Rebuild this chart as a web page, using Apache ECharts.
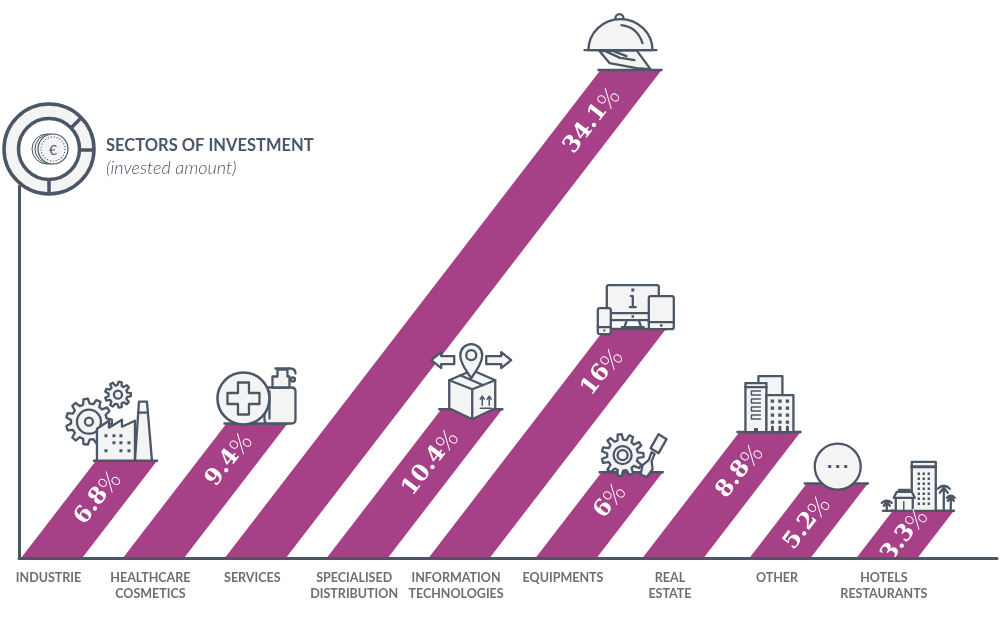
<!DOCTYPE html>
<html>
<head>
<meta charset="utf-8">
<title>Sectors of investment</title>
<script src="https://cdn.jsdelivr.net/npm/echarts@6/dist/echarts.min.js"></script>
<style>
	html, body { margin: 0; padding: 0; background: #fff; }
	#chart { width: 1000px; height: 620px; }
</style>
</head>
<body>
<div id="chart"></div>
<script>
const categories = [
	"INDUSTRIE", "HEALTHCARE\nCOSMETICS", "SERVICES", "SPECIALISED\nDISTRIBUTION",
	"INFORMATION\nTECHNOLOGIES", "EQUIPMENTS", "REAL\nESTATE", "OTHER", "HOTELS\nRESTAURANTS"
];
const shares = [6.8, 9.4, 34.1, 10.4, 16, 6, 8.8, 5.2, 3.3];

const ink = "#4b5766";
const paper = "#f4f4f4";
const plum = "#a64087";

// layout only: how far under the top of each bar the percent text ends
const labelDrops = [14, 13, 21, 24, 23, 15, 16, 16, 1];

// the last four bars are a bit more spread out than the first five
function slotOf(i) {
	return i <= 4 ? i : 4 + (i - 4) * 1.05;
}
const labelSlots = categories.map((c, i) => slotOf(i) + 0.27);

// small path helpers for the pictograms
function circ(cx, cy, r) {
	return `M${cx - r} ${cy} A${r} ${r} 0 1 0 ${cx + r} ${cy} A${r} ${r} 0 1 0 ${cx - r} ${cy} Z`;
}
function rr(x, y, w, h, r) {
	return `M${x + r} ${y} L${x + w - r} ${y} Q${x + w} ${y} ${x + w} ${y + r} L${x + w} ${y + h - r} Q${x + w} ${y + h} ${x + w - r} ${y + h} L${x + r} ${y + h} Q${x} ${y + h} ${x} ${y + h - r} L${x} ${y + r} Q${x} ${y} ${x + r} ${y} Z`;
}
function gear(cx, cy, ro, ri, n) {
	var d = "";
	var s = Math.PI * 2 / n;
	for (var k = 0; k < n; k++) {
		var a = k * s;
		var pts = [[ri, a - s * 0.32], [ro, a - s * 0.17], [ro, a + s * 0.17], [ri, a + s * 0.32]];
		pts.forEach(function (q, m) {
			d += (k === 0 && m === 0 ? "M" : "L") + (cx + q[0] * Math.cos(q[1])).toFixed(1) + " " + (cy + q[0] * Math.sin(q[1])).toFixed(1) + " ";
		});
	}
	return d + "Z";
}
function shape(d, lw) {
	return { type: "path", shape: { pathData: d }, style: { fill: paper, stroke: ink, lineWidth: lw || 2.3, lineJoin: "round", lineCap: "round" } };
}
function line(d, lw) {
	return { type: "path", shape: { pathData: d }, style: { fill: "none", stroke: ink, lineWidth: lw || 2.3, lineJoin: "round", lineCap: "round" } };
}
function dots(list, s) {
	var d = list.map(q => rr(q[0] - s / 2, q[1] - s / 2, s, s, 0)).join(" ");
	return { type: "path", shape: { pathData: d }, style: { fill: ink, stroke: null } };
}
function grid(xs, ys) {
	var out = [];
	ys.forEach(y => xs.forEach(x => out.push([x, y])));
	return out;
}

// one pictogram per bar, origin is the top left corner of the bar
const icons = [
	function () {
		return [
			shape(gear(-7, -39, 23, 18, 11)), shape(circ(-7, -39, 12)), shape(circ(-7, -39, 4)),
			shape(gear(22, -66, 13, 9.5, 9)), shape(circ(22, -66, 4)),
			shape("M1 0 L1 -32 L13 -40 L13 -33 L26 -41 L26 -34 L39 -40 L39 0 Z"),
			shape("M39 0 L43 -59 L51 -59 L56 0 Z"), line("M42.5 -48 L52 -48"),
			dots([[10, -25], [18, -25], [25, -25], [18, -18], [25, -18], [33, -18], [10, -10], [25, -10], [33, -10]], 3)
		];
	},
	function () {
		return [
			shape(rr(38, -36, 31, 36, 4)), line("M43 -32 L43 -5"),
			shape("M46 -36 L46 -47 L51 -47 L51 -54 L61 -54 L61 -47 L63 -47 L63 -36 Z"),
			line("M49 -55 L64 -55 Q69 -55 69 -50"), shape(circ(66.5, -44, 2)),
			shape(circ(17, -25, 26), 2.6),
			shape("M11.5 -41 L22.5 -41 L22.5 -30.5 L33 -30.5 L33 -19.5 L22.5 -19.5 L22.5 -9 L11.5 -9 L11.5 -19.5 L1 -19.5 L1 -30.5 L11.5 -30.5 Z")
		];
	},
	function () {
		return [
			shape(circ(19, -52, 4)),
			shape("M-1 -19 L9 -7 L36 -2 L50 -1 L36 -20 Z"),
			line("M5 -19 L20 -12 M13 -19 L26 -14 M22 -12 L34 -10"),
			shape("M-12 -20 A32 31 0 0 1 52 -20 Z"),
			line("M-16 -20 L56 -20"),
			line("M21 -45 Q37 -43 42 -27")
		];
	},
	function () {
		return [
			shape("M8 -29 L31 -39 L54 -29 L54 -1 L31 10 L8 -1 Z"),
			line("M8 -29 L31 -20 L54 -29 M31 -20 L31 10 M19 -34 L42 -24"),
			line("M41 -13 L41 -4 M39 -10 L41 -13 L43 -10 M48 -13 L48 -4 M46 -10 L48 -13 L50 -10 M39 -1 L50 -1", 1.5),
			shape("M30 -31 C24 -40 19 -47 19 -54 A11 11 0 0 1 41 -54 C41 -47 36 -40 30 -31 Z"),
			shape(circ(30, -54, 5)),
			shape("M-10 -49 L0 -57 L0 -53 L13 -53 L13 -45 L0 -45 L0 -41 Z"),
			shape("M70 -49 L60 -57 L60 -53 L45 -53 L45 -45 L60 -45 L60 -41 Z")
		];
	},
	function () {
		return [
			shape(rr(2, -44, 52, 35, 2)), line("M2 -16 L54 -16 M22 -9 L20 -3 M34 -9 L36 -3 M17 -2 L39 -2"),
			dots([[28, -39]], 3),
			line("M26 -33 L28 -33 L28 -22 M25 -22 L31 -22"),
			dots([[28, -12.5]], 2.5),
			shape(rr(44, -33, 25, 33, 2)), line("M44 -7 L69 -7"), dots([[56.5, -3.5]], 2.5),
			shape(rr(-7, -21, 13, 26, 2)), line("M-7 -2 L6 -2"), dots([[-0.5, 1.5]], 2)
		];
	},
	function () {
		return [
			shape(gear(21, -17, 21, 15.5, 11)), shape(circ(21, -17, 9)), shape(circ(21, -17, 5)),
			shape("M57 -38 L65 -33 L57 -19 L49 -24 Z"),
			shape("M50 -20 L53 -18 L50 -11 L51 -3 L45 5 L39 2 L41 -7 L47 -12 Z")
		];
	},
	function () {
		return [
			shape(rr(19, -56, 24, 30, 0)),
			shape(rr(6, -49, 21, 49, 0)), line("M6 -45 L27 -45"),
			line("M21 -41 L12 -41 L12 -37 L21 -37 M21 -33 L12 -33 L12 -29 L21 -29 M21 -25 L12 -25 L12 -21 L21 -21 M21 -17 L12 -17 L12 -13 L21 -13", 1.5),
			dots([[16.5, -2]], 4),
			shape(rr(27, -37, 27, 37, 0)),
			dots(grid([33, 40.5, 48], [-31, -24, -17, -10]), 3.4),
			line("M33 0 L33 -5 M40.5 0 L40.5 -5 M48 0 L48 -5", 3)
		];
	},
	function () {
		return [
			shape(circ(31, -17, 23)),
			dots([[23, -17], [31, -17], [39, -17]], 3)
		];
	},
	function () {
		return [
			line("M-10 0 L0 0"),
			line("M-6 0 L-6 -9 M-11 -8 Q-6 -12 -1 -8 M-9 -5 L-6 -9 L-3 -5"),
			shape(rr(19, -49, 24, 49, 0)), line("M19 -44 L43 -44", 3),
			dots(grid([26, 31, 36], [-37, -32, -27, -22, -17, -12, -7]), 2.4),
			shape(rr(3, -15, 17, 15, 0)),
			shape("M1 -13 L4 -19 L19 -19 L22 -13 Z"),
			line("M6 -21 L17 -21"),
			line("M11 0 L11 -9", 1.5),
			line("M51 0 L51 -23 M45 -22 Q51 -28 57 -22 M47 -18 L51 -23 L55 -18"),
			line("M58 0 L58 -14 M54 -13 Q58 -17 62 -13 M55 -10 L58 -14 L61 -10")
		];
	}
];

function renderBar(params, api) {
	var slot = api.value(0);
	var val = api.value(1);
	var i = api.value(2);
	var base = api.coord([slot, 0]);
	var topY = api.coord([slot, val])[1];
	var h = base[1] - topY;
	var w = api.size([0.6, 0])[0];
	var lean = 0.77;
	var tx = base[0] + h * lean;
	var drop = labelDrops[i];
	var lx = base[0] + w / 2 + (h - drop) * lean;
	var ly = topY + drop;
	return {
		type: "group",
		children: [
			{
				type: "polygon",
				shape: { points: [[base[0], base[1]], [base[0] + w, base[1]], [tx + w, topY], [tx, topY]] },
				style: { fill: plum }
			},
			{
				type: "line",
				shape: { x1: tx - 3, y1: topY, x2: tx + w + 1, y2: topY },
				style: { stroke: ink, lineWidth: 2.5 }
			},
			{
				type: "group",
				x: tx,
				y: topY,
				children: icons[i]()
			},
			{
				type: "text",
				x: lx,
				y: ly,
				rotation: Math.atan(1 / lean),
				style: {
					text: "{n|" + val + "}{p|%}",
					align: "right",
					verticalAlign: "middle",
					rich: {
						n: { fontFamily: "DejaVu Serif", fontWeight: "bold", fontSize: 23, fill: "#fff", color: "#fff" },
						p: { fontFamily: "Lato", fontWeight: 300, fontSize: 25, fill: "#fff", color: "#fff" }
					}
				}
			}
		]
	};
}

var chart = echarts.init(document.getElementById("chart"), null, { renderer: "canvas" });

var option = {
	animation: false,
	backgroundColor: "#fff",
	title: {
		text: "SECTORS OF INVESTMENT",
		subtext: "(invested amount)",
		left: 106,
		top: 137,
		padding: 0,
		itemGap: 5,
		textStyle: { fontFamily: "Lato", fontWeight: "bold", fontSize: 16.5, color: ink },
		subtextStyle: { fontFamily: "Lato", fontStyle: "italic", fontWeight: 300, fontSize: 18, color: ink }
	},
	grid: { left: 19, right: 3, top: 186, bottom: 62 },
	xAxis: {
		type: "value",
		min: -0.02,
		max: 9.58,
		z: 3,
		splitLine: { show: false },
		axisTick: { show: false },
		axisLine: { show: true, onZero: false, lineStyle: { color: ink, width: 3 } },
		axisLabel: {
			show: true,
			customValues: labelSlots,
			margin: 12,
			fontFamily: "Lato",
			fontWeight: "bold",
			fontSize: 12.5,
			lineHeight: 16,
			color: "#6d6e70",
			verticalAlign: "top",
			formatter: function (v) {
				return categories[labelSlots.indexOf(v)];
			}
		}
	},
	yAxis: {
		type: "value",
		min: 0,
		max: 26,
		z: 3,
		splitLine: { show: false },
		axisTick: { show: false },
		axisLabel: { show: false },
		axisLine: { show: true, onZero: false, lineStyle: { color: ink, width: 3 } }
	},
	series: [{
		type: "custom",
		renderItem: renderBar,
		encode: { x: 0, y: 1 },
		data: categories.map((c, i) => [slotOf(i), shares[i], i])
	}],
	graphic: {
		elements: [{
			type: "group",
			z: 10,
			children: [
				{ type: "circle", shape: { cx: 49, cy: 149, r: 45 }, style: { fill: paper, stroke: ink, lineWidth: 3.5 } },
				{ type: "circle", shape: { cx: 49, cy: 149, r: 30.5 }, style: { fill: "#fff", stroke: ink, lineWidth: 3.5 } },
				{ type: "line", shape: { x1: 71, y1: 128, x2: 82, y2: 117 }, style: { stroke: ink, lineWidth: 3.5 } },
				{ type: "line", shape: { x1: 80, y1: 150, x2: 94, y2: 150 }, style: { stroke: ink, lineWidth: 3.5 } },
				{ type: "line", shape: { x1: 49, y1: 180, x2: 49, y2: 194 }, style: { stroke: ink, lineWidth: 3.5 } },
				{ type: "circle", shape: { cx: 47, cy: 149, r: 15 }, style: { fill: paper, stroke: ink, lineWidth: 1 } },
				{ type: "circle", shape: { cx: 50, cy: 149, r: 15 }, style: { fill: paper, stroke: ink, lineWidth: 1 } },
				{ type: "circle", shape: { cx: 53, cy: 149, r: 15 }, style: { fill: paper, stroke: ink, lineWidth: 1.2 } },
				{ type: "circle", shape: { cx: 53, cy: 149, r: 12 }, style: { fill: "none", stroke: ink, lineWidth: 1.2, lineDash: [1, 2] } },
				{ type: "text", x: 53, y: 150, style: { text: "€", align: "center", verticalAlign: "middle", fontFamily: "Lato", fontSize: 14, fill: ink } }
			]
		}]
	}
};

option && chart.setOption(option);
</script>
</body>
</html>
